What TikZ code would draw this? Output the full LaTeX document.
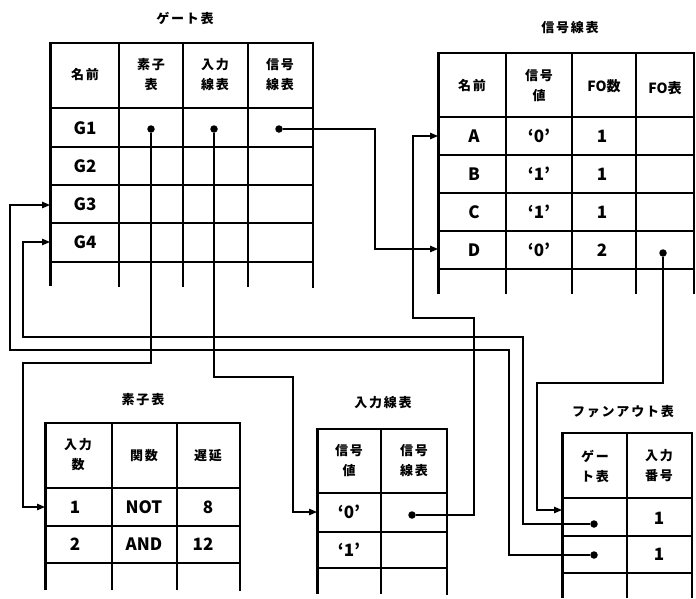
\documentclass[tikz,border=0pt]{standalone}
\usepackage{fontspec}
\usetikzlibrary{arrows.meta}
\newfontfamily\jpfont{Noto Sans CJK JP}[LetterSpace=14]
\newfontfamily\latfont{Noto Sans CJK JP}
\tikzset{
  tbl/.style={line width=1.5pt},
  frm/.style={line width=2.3pt},
  lft/.style={line width=3pt},
  conn/.style={line width=1.2pt},
  arr/.style={conn,-{Triangle[length=8pt,width=6.5pt]}},
  dotc/.style={circle,fill,inner sep=0pt,minimum size=7.5pt},
  jt/.style={font=\jpfont\bfseries\fontsize{13}{20}\selectfont,align=center,inner sep=0pt},
  ttl/.style={font=\jpfont\bfseries\fontsize{13}{15}\selectfont,inner sep=0pt},
  lt/.style={font=\latfont\bfseries\fontsize{17}{20}\selectfont,inner sep=0pt},
}
\begin{document}
\begin{tikzpicture}[x=1pt,y=-1pt]
\useasboundingbox (0,0) rectangle (696,598);
\fill[white] (0,0) rectangle (696,598);

%% ---------------- Gate table ----------------
\node[ttl] (tG) at (185,18) {ゲート表};
\foreach \yy in {108,147,185,223,262} \draw[tbl] (50,\yy) -- (313,\yy);
\draw[frm] (50,43) -- (313,43);
\foreach \xx in {119,183,248} \draw[tbl] (\xx,43) -- (\xx,287);
\draw[lft] (50,42) -- (50,286);
\draw[frm] (313,42) -- (313,288);
\node[jt] (gh1) at (85,75) {名前};
\node[jt] (gh2) at (151,75) {素子\\表};
\node[jt] (gh3) at (215,75) {入力\\線表};
\node[jt] (gh4) at (280,75) {信号\\線表};
\node[lt] (g1) at (85,128) {G1};
\node[lt] (g2) at (85,166) {G2};
\node[lt] (g3) at (85,204) {G3};
\node[lt] (g4) at (85,242) {G4};
\node[dotc] (gE) at (151,129) {};
\node[dotc] (gI) at (214,129) {};
\node[dotc] (gS) at (279,129) {};
\coordinate (gIn3) at (50,205);
\coordinate (gIn4) at (50,242);

%% ---------------- Signal line table ----------------
\node[ttl] (tS) at (570,28) {信号線表};
\foreach \yy in {117,155,193,231,269} \draw[tbl] (438,\yy) -- (695,\yy);
\draw[frm] (438,53) -- (695,53);
\foreach \xx in {506,572,636} \draw[tbl] (\xx,53) -- (\xx,294);
\draw[lft] (438,52) -- (438,294);
\draw[frm] (694,52) -- (694,294);
\node[jt] (sh1) at (472,86) {名前};
\node[jt] (sh2) at (539,86) {信号\\値};
\node (sh3) at (604,86) {\latfont\bfseries\fontsize{14}{16}\selectfont FO\jpfont 数};
\node (sh4) at (665,88) {\latfont\bfseries\fontsize{14}{16}\selectfont FO\jpfont 表};
\node[lt] (sA) at (474,136) {A};
\node[lt] (sB) at (474,174) {B};
\node[lt] (sC) at (474,212) {C};
\node[lt] (sD) at (474,250) {D};
\node[lt] (sA2) at (539,136) {‘0’};
\node[lt] (sB2) at (539,174) {‘1’};
\node[lt] (sC2) at (539,212) {‘1’};
\node[lt] (sD2) at (539,250) {‘0’};
\node[lt] (sA3) at (602,136) {1};
\node[lt] (sB3) at (602,174) {1};
\node[lt] (sC3) at (602,212) {1};
\node[lt] (sD3) at (602,250) {2};
\node[dotc] (sFO) at (663,253) {};
\coordinate (sInA) at (438,136);
\coordinate (sInD) at (438,249);

%% ---------------- Element table ----------------
\node[ttl] (tE) at (143,400) {素子表};
\foreach \yy in {488,526,563} \draw[tbl] (45,\yy) -- (240,\yy);
\draw[frm] (45,423) -- (240,423);
\foreach \xx in {112,177} \draw[tbl] (\xx,423) -- (\xx,590);
\draw[lft] (45,422) -- (45,590);
\draw[frm] (240,422) -- (240,591);
\node[jt] (eh1) at (78,455) {入力\\数};
\node[jt] (eh2) at (144,456) {関数};
\node[jt] (eh3) at (208,456) {遅延};
\node[lt] (e11) at (75,507) {1};
\node[lt] (e12) at (144,507) {NOT};
\node[lt] (e13) at (208,507) {8};
\node[lt] (e21) at (75,544) {2};
\node[lt] (e22) at (144,544) {AND};
\node[lt] (e23) at (203,544) {12};
\coordinate (eIn) at (45,507);

%% ---------------- Input line table ----------------
\node[ttl] (tI) at (383,403) {入力線表};
\foreach \yy in {493,532,568} \draw[tbl] (317,\yy) -- (447,\yy);
\draw[frm] (317,429) -- (447,429);
\draw[tbl] (381,429) -- (381,594);
\draw[lft] (317,428) -- (317,594);
\draw[frm] (447,428) -- (447,595);
\node[jt] (ih1) at (349,461) {信号\\値};
\node[jt] (ih2) at (414,461) {信号\\線表};
\node[lt] (i1) at (349,512) {‘0’};
\node[lt] (i2) at (349,550) {‘1’};
\node[dotc] (iS) at (412,515) {};
\coordinate (iIn) at (317,512);

%% ---------------- Fan-out table ----------------
\node[ttl] (tF) at (623,412) {ファンアウト表};
\foreach \yy in {498,536,573} \draw[tbl] (562,\yy) -- (692,\yy);
\draw[frm] (562,433) -- (692,433);
\draw[tbl] (627,433) -- (627,598);
\draw[lft] (562,432) -- (562,598);
\draw[frm] (692,432) -- (692,598);
\node[jt] (fh1) at (595,466) {ゲー\\ト表};
\node[jt] (fh2) at (659,466) {入力\\番号};
\node[lt] (f1) at (659,518) {1};
\node[lt] (f2) at (659,554) {1};
\node[dotc] (fG1) at (594,524) {};
\node[dotc] (fG2) at (594,555) {};
\coordinate (fIn) at (562,510);

%% ---------------- Connectors ----------------
\draw[arr] (gS) -- (375,129) -- (375,249) -- (sInD);
\draw[arr] (sFO) -- (663,383) -- (537,383) -- (537,510) -- (fIn);
\draw[arr] (fG1) -- (523,524) -- (523,337) -- (23,337) -- (23,242) -- (gIn4);
\draw[arr] (fG2) -- (509,555) -- (509,350) -- (10,350) -- (10,205) -- (gIn3);
\draw[arr] (gE) -- (151,363) -- (23,363) -- (23,507) -- (eIn);
\draw[arr] (gI) -- (214,377) -- (293,377) -- (293,512) -- (iIn);
\draw[arr] (iS) -- (474,515) -- (474,318) -- (413,318) -- (413,136) -- (sInA);
\end{tikzpicture}
\end{document}
